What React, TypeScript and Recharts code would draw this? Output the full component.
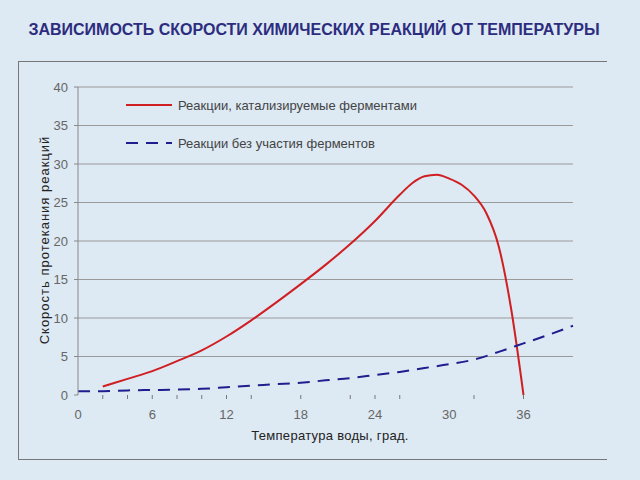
import { LineChart, Line, CartesianGrid, XAxis, YAxis } from "recharts";

const title = "ЗАВИСИМОСТЬ СКОРОСТИ ХИМИЧЕСКИХ РЕАКЦИЙ ОТ ТЕМПЕРАТУРЫ";
const xTitle = "Температура воды, град.";
const yTitle = "Скорость протекания реакций";
const seriesNames = ["Реакции, катализируемые ферментами", "Реакции без участия ферментов"];

// enzyme-catalysed reactions
const redTemp = [2, 4, 6, 8, 10, 12, 14, 16, 18, 20, 22, 24, 26, 27, 28, 29, 30, 31, 32, 33, 34, 35, 36];
const redRate = [1.1, 2.1, 3.1, 4.4, 5.8, 7.6, 9.7, 12.0, 14.4, 16.9, 19.6, 22.6, 26.0, 27.5, 28.4, 28.6, 28.1, 27.3, 25.9, 23.6, 19.3, 11.2, 0];

// reactions without enzymes
const blueTemp = [0, 2, 4, 6, 8, 10, 12, 14, 16, 18, 20, 22, 24, 26, 28, 30, 32, 34, 36, 38, 40];
const blueRate = [0.5, 0.5, 0.6, 0.65, 0.7, 0.8, 1.0, 1.2, 1.4, 1.6, 1.9, 2.2, 2.6, 3.0, 3.5, 4.0, 4.6, 5.6, 6.7, 7.8, 9.0];

const xTicks = [0, 2, 4, 6, 8, 10, 12, 14, 18, 22, 24, 26, 30, 32, 36];
const xLabels = [0, 6, 12, 18, 24, 30, 36];
const noMark = [0, 30];
const yTicks = [0, 5, 10, 15, 20, 25, 30, 35, 40];
const gridValues = [5, 10, 15, 20, 25, 30, 35, 40];

const redData = redTemp.map((t, i) => ({ t, v: redRate[i] }));
const blueData = blueTemp.map((t, i) => ({ t, v: blueRate[i] }));

const RED = "#d01f22";
const BLUE = "#1e1e8e";
const font = "'Liberation Sans', Arial, sans-serif";

const XTick = (props: any) => {
  const { x, y, payload } = props;
  const v = payload.value;
  return (
    <g>
      {!noMark.includes(v) && <line x1={x} x2={x} y1={y} y2={y + 4} stroke="#777" />}
      {xLabels.includes(v) && (
        <text x={x} y={y + 24} textAnchor="middle" fill="#666" fontSize={13} fontFamily={font}>
          {v}
        </text>
      )}
    </g>
  );
};

const LegendBox = () => (
  <div style={{ position: "absolute", left: 126, top: 95, fontFamily: font, fontSize: 13, color: "#444" }}>
    <div style={{ display: "flex", alignItems: "center", height: 20 }}>
      <svg width={52} height={6}>
        <line x1={0} x2={46} y1={3} y2={3} stroke={RED} strokeWidth={2} />
      </svg>
      <span>{seriesNames[0]}</span>
    </div>
    <div style={{ display: "flex", alignItems: "center", height: 20, marginTop: 18 }}>
      <svg width={52} height={6}>
        <line x1={0} x2={46} y1={3} y2={3} stroke={BLUE} strokeWidth={2} strokeDasharray="12 8" />
      </svg>
      <span>{seriesNames[1]}</span>
    </div>
  </div>
);

export default function App() {
  return (
    <div style={{ position: "absolute", left: 0, top: 0, width: 640, height: 480, background: "#dde9f3", overflow: "hidden" }}>
      <div style={{ position: "absolute", left: 0, top: 21, width: 628, textAlign: "center", fontFamily: font, fontWeight: "bold", fontSize: 16, color: "#2d2d7f" }}>
        {title}
      </div>
      <div style={{ position: "absolute", left: 18, top: 61, width: 588, height: 397, borderTop: "1px solid #777", borderLeft: "1px solid #777", borderBottom: "1px solid #777" }} />
      <div style={{ position: "absolute", left: 0, top: 428, width: 660, textAlign: "center", fontFamily: font, fontSize: 13, color: "#222", letterSpacing: 0.3 }}>
        {xTitle}
      </div>
      <div style={{ position: "absolute", left: 44, top: 240, transform: "translate(-50%, -50%) rotate(-90deg)", whiteSpace: "nowrap", fontFamily: font, fontSize: 13, color: "#222", letterSpacing: 1 }}>
        {yTitle}
      </div>
      <div style={{ position: "absolute", left: 0, top: 0 }}>
        <LineChart width={640} height={480} margin={{ top: 87, right: 67, bottom: 55, left: 18 }}>
          <CartesianGrid vertical={false} horizontalValues={gridValues} stroke="#9a9a9a" />
          <XAxis
            type="number"
            dataKey="t"
            domain={[0, 40]}
            ticks={xTicks}
            tick={<XTick />}
            tickLine={false}
            axisLine={false}
            tickSize={0}
            tickMargin={0}
            height={30}
            allowDuplicatedCategory={false}
          />
          <YAxis
            type="number"
            domain={[0, 40]}
            ticks={yTicks}
            width={60}
            tickSize={4}
            tickMargin={6}
            axisLine={{ stroke: "#888" }}
            tickLine={{ stroke: "#888" }}
            tick={{ fill: "#666", fontSize: 13, fontFamily: font }}
          />
          <Line data={redData} dataKey="v" type="monotone" stroke={RED} strokeWidth={2} dot={false} isAnimationActive={false} name={seriesNames[0]} />
          <Line data={blueData} dataKey="v" type="monotone" stroke={BLUE} strokeWidth={2} strokeDasharray="12 8" dot={false} isAnimationActive={false} name={seriesNames[1]} />
        </LineChart>
      </div>
      <LegendBox />
    </div>
  );
}
